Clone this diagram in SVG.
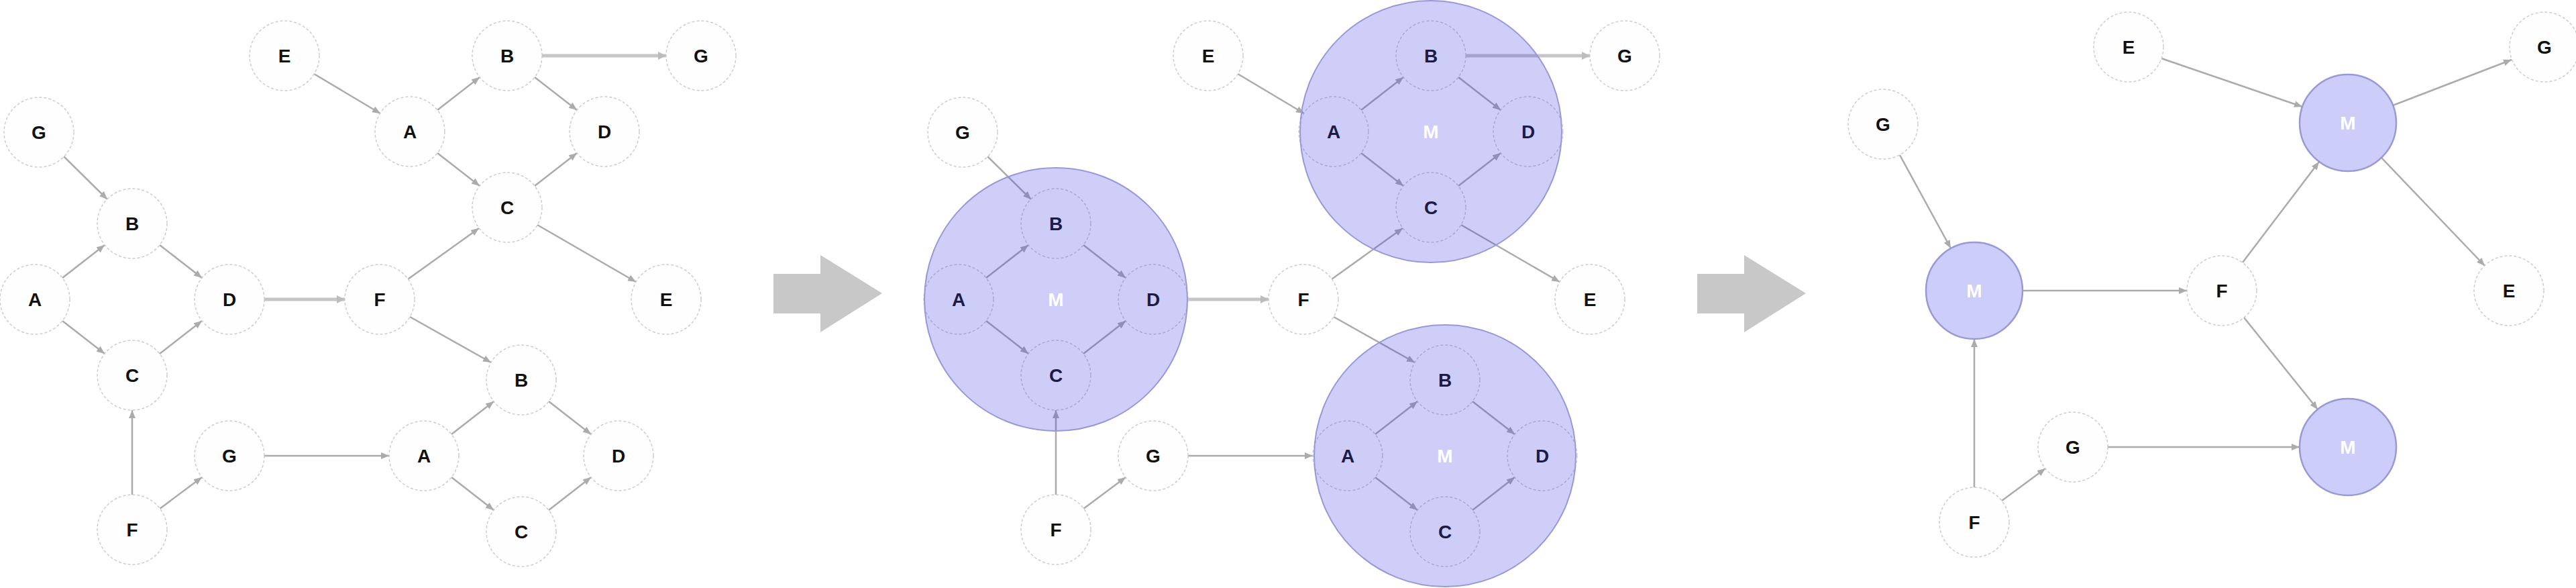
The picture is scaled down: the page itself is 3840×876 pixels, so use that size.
<svg xmlns="http://www.w3.org/2000/svg" width="3840" height="876" viewBox="0 0 3840 876">
<style>
.n{fill:#fefefe;stroke:#cdcdcd;stroke-width:1.5;stroke-dasharray:4 3}
.t{font-family:"Liberation Sans",Arial,sans-serif;font-weight:bold;font-size:28px;fill:#111;text-anchor:middle}
.e{stroke:#ababab;stroke-width:2.5;fill:none;marker-end:url(#ah)}
.et{stroke:#c6c6c6;stroke-width:5;fill:none;marker-end:url(#ah2)}
.ov{fill:#3a3ae6;fill-opacity:0.25;stroke:#9898d8;stroke-width:2}
.m{fill:#cdcdfa;stroke:#9999d6;stroke-width:2.5}
.mt{font-family:"Liberation Sans",Arial,sans-serif;font-weight:bold;font-size:28px;fill:#fff;text-anchor:middle}
.big{fill:#c8c8c8}
</style>
<defs>
<marker id="ah" markerUnits="userSpaceOnUse" markerWidth="12" markerHeight="10" refX="12" refY="5" orient="auto"><path d="M0,0 L12,5 L0,10 z" fill="#ababab"/></marker>
<marker id="ah2" markerUnits="userSpaceOnUse" markerWidth="12" markerHeight="12" refX="12" refY="6" orient="auto"><path d="M0,0 L12,6 L0,12 z" fill="#bcbcbc"/></marker>
</defs>
<rect width="3840" height="876" fill="#fff"/>

<g id="transition-arrows">
<polygon class="big" points="1153,408 1223,408 1223,380 1315,437 1223,495 1223,467 1153,467"/>
<polygon class="big" points="2530,408 2600,408 2600,380 2692,437 2600,495 2600,467 2530,467"/>
</g>

<g id="connectors">
<!-- panel 1 -->
<line class="e" x1="93" y1="414" x2="156" y2="365"/>
<line class="e" x1="93" y1="478" x2="156" y2="527"/>
<line class="e" x1="238" y1="365" x2="301" y2="414"/>
<line class="e" x1="238" y1="527" x2="301" y2="478"/>
<line class="e" x1="652" y1="164" x2="715" y2="115"/>
<line class="e" x1="652" y1="228" x2="715" y2="277"/>
<line class="e" x1="797" y1="115" x2="860" y2="164"/>
<line class="e" x1="797" y1="277" x2="860" y2="228"/>
<line class="e" x1="673" y1="647" x2="736" y2="598"/>
<line class="e" x1="673" y1="711" x2="736" y2="760"/>
<line class="e" x1="818" y1="598" x2="881" y2="647"/>
<line class="e" x1="818" y1="760" x2="881" y2="711"/>
<line class="e" x1="95" y1="233" x2="160" y2="297"/>
<line class="e" x1="197" y1="737" x2="197" y2="611"/>
<line class="e" x1="238" y1="758" x2="301" y2="711"/>
<line class="et" x1="394" y1="446" x2="514" y2="446"/>
<line class="e" x1="394" y1="679" x2="580" y2="679"/>
<line class="e" x1="608" y1="416" x2="714" y2="340"/>
<line class="e" x1="611" y1="472" x2="732" y2="540"/>
<line class="e" x1="468" y1="110" x2="567" y2="169"/>
<line class="et" x1="808" y1="83" x2="993" y2="83"/>
<line class="e" x1="801" y1="335" x2="948" y2="420"/>
<!-- panel 2 -->
<line class="e" x1="1470" y1="414" x2="1533" y2="365"/>
<line class="e" x1="1470" y1="478" x2="1533" y2="527"/>
<line class="e" x1="1615" y1="365" x2="1678" y2="414"/>
<line class="e" x1="1615" y1="527" x2="1678" y2="478"/>
<line class="e" x1="2029" y1="164" x2="2092" y2="115"/>
<line class="e" x1="2029" y1="228" x2="2092" y2="277"/>
<line class="e" x1="2174" y1="115" x2="2237" y2="164"/>
<line class="e" x1="2174" y1="277" x2="2237" y2="228"/>
<line class="e" x1="2050" y1="647" x2="2113" y2="598"/>
<line class="e" x1="2050" y1="711" x2="2113" y2="760"/>
<line class="e" x1="2195" y1="598" x2="2258" y2="647"/>
<line class="e" x1="2195" y1="760" x2="2258" y2="711"/>
<line class="e" x1="1472" y1="233" x2="1537" y2="297"/>
<line class="e" x1="1574" y1="737" x2="1574" y2="611"/>
<line class="e" x1="1615" y1="758" x2="1678" y2="711"/>
<line class="et" x1="1771" y1="446" x2="1891" y2="446"/>
<line class="e" x1="1771" y1="679" x2="1957" y2="679"/>
<line class="e" x1="1985" y1="416" x2="2091" y2="340"/>
<line class="e" x1="1988" y1="472" x2="2109" y2="540"/>
<line class="e" x1="1845" y1="110" x2="1944" y2="169"/>
<line class="et" x1="2185" y1="83" x2="2370" y2="83"/>
<line class="e" x1="2178" y1="335" x2="2325" y2="420"/>
<!-- panel 3 -->
<line class="e" x1="2832" y1="231" x2="2908" y2="370"/>
<line class="e" x1="3015" y1="433" x2="3260" y2="433"/>
<line class="e" x1="2943" y1="726" x2="2943" y2="505"/>
<line class="e" x1="2984" y1="746" x2="3049" y2="698"/>
<line class="e" x1="3142" y1="666" x2="3428" y2="666"/>
<line class="e" x1="3343" y1="391" x2="3457" y2="241"/>
<line class="e" x1="3345" y1="473" x2="3455" y2="610"/>
<line class="e" x1="3222" y1="87" x2="3432" y2="159"/>
<line class="e" x1="3567" y1="157" x2="3744" y2="89"/>
<line class="e" x1="3550" y1="235" x2="3704" y2="396"/>
</g>

<!-- panel 1 nodes -->
<g id="p1-g1"><circle class="n" cx="58" cy="197" r="52"/><text class="t" x="58" y="207">G</text></g>
<g id="p1-a1"><circle class="n" cx="52" cy="446" r="52"/><text class="t" x="52" y="456">A</text></g>
<g id="p1-b1"><circle class="n" cx="197" cy="333" r="52"/><text class="t" x="197" y="343">B</text></g>
<g id="p1-c1"><circle class="n" cx="197" cy="559" r="52"/><text class="t" x="197" y="569">C</text></g>
<g id="p1-d1"><circle class="n" cx="342" cy="446" r="52"/><text class="t" x="342" y="456">D</text></g>
<g id="p1-f1"><circle class="n" cx="197" cy="789" r="52"/><text class="t" x="197" y="799">F</text></g>
<g id="p1-g2"><circle class="n" cx="342" cy="679" r="52"/><text class="t" x="342" y="689">G</text></g>
<g id="p1-e1"><circle class="n" cx="424" cy="83" r="52"/><text class="t" x="424" y="93">E</text></g>
<g id="p1-a2"><circle class="n" cx="611" cy="196" r="52"/><text class="t" x="611" y="206">A</text></g>
<g id="p1-b2"><circle class="n" cx="756" cy="83" r="52"/><text class="t" x="756" y="93">B</text></g>
<g id="p1-c2"><circle class="n" cx="756" cy="309" r="52"/><text class="t" x="756" y="319">C</text></g>
<g id="p1-d2"><circle class="n" cx="901" cy="196" r="52"/><text class="t" x="901" y="206">D</text></g>
<g id="p1-g3"><circle class="n" cx="1045" cy="83" r="52"/><text class="t" x="1045" y="93">G</text></g>
<g id="p1-f2"><circle class="n" cx="566" cy="446" r="52"/><text class="t" x="566" y="456">F</text></g>
<g id="p1-e2"><circle class="n" cx="993" cy="446" r="52"/><text class="t" x="993" y="456">E</text></g>
<g id="p1-a3"><circle class="n" cx="632" cy="679" r="52"/><text class="t" x="632" y="689">A</text></g>
<g id="p1-b3"><circle class="n" cx="777" cy="566" r="52"/><text class="t" x="777" y="576">B</text></g>
<g id="p1-c3"><circle class="n" cx="777" cy="792" r="52"/><text class="t" x="777" y="802">C</text></g>
<g id="p1-d3"><circle class="n" cx="922" cy="679" r="52"/><text class="t" x="922" y="689">D</text></g>

<!-- panel 2 nodes -->
<g id="p2-g1"><circle class="n" cx="1435" cy="197" r="52"/><text class="t" x="1435" y="207">G</text></g>
<g id="p2-a1"><circle class="n" cx="1429" cy="446" r="52"/><text class="t" x="1429" y="456">A</text></g>
<g id="p2-b1"><circle class="n" cx="1574" cy="333" r="52"/><text class="t" x="1574" y="343">B</text></g>
<g id="p2-c1"><circle class="n" cx="1574" cy="559" r="52"/><text class="t" x="1574" y="569">C</text></g>
<g id="p2-d1"><circle class="n" cx="1719" cy="446" r="52"/><text class="t" x="1719" y="456">D</text></g>
<g id="p2-f1"><circle class="n" cx="1574" cy="789" r="52"/><text class="t" x="1574" y="799">F</text></g>
<g id="p2-g2"><circle class="n" cx="1719" cy="679" r="52"/><text class="t" x="1719" y="689">G</text></g>
<g id="p2-e1"><circle class="n" cx="1801" cy="83" r="52"/><text class="t" x="1801" y="93">E</text></g>
<g id="p2-a2"><circle class="n" cx="1988" cy="196" r="52"/><text class="t" x="1988" y="206">A</text></g>
<g id="p2-b2"><circle class="n" cx="2133" cy="83" r="52"/><text class="t" x="2133" y="93">B</text></g>
<g id="p2-c2"><circle class="n" cx="2133" cy="309" r="52"/><text class="t" x="2133" y="319">C</text></g>
<g id="p2-d2"><circle class="n" cx="2278" cy="196" r="52"/><text class="t" x="2278" y="206">D</text></g>
<g id="p2-g3"><circle class="n" cx="2422" cy="83" r="52"/><text class="t" x="2422" y="93">G</text></g>
<g id="p2-f2"><circle class="n" cx="1943" cy="446" r="52"/><text class="t" x="1943" y="456">F</text></g>
<g id="p2-e2"><circle class="n" cx="2370" cy="446" r="52"/><text class="t" x="2370" y="456">E</text></g>
<g id="p2-a3"><circle class="n" cx="2009" cy="679" r="52"/><text class="t" x="2009" y="689">A</text></g>
<g id="p2-b3"><circle class="n" cx="2154" cy="566" r="52"/><text class="t" x="2154" y="576">B</text></g>
<g id="p2-c3"><circle class="n" cx="2154" cy="792" r="52"/><text class="t" x="2154" y="802">C</text></g>
<g id="p2-d3"><circle class="n" cx="2299" cy="679" r="52"/><text class="t" x="2299" y="689">D</text></g>

<!-- panel 2 motif overlays -->
<g id="p2-m1"><circle class="ov" cx="1574" cy="446" r="196"/><text class="mt" x="1574" y="456">M</text></g>
<g id="p2-m2"><circle class="ov" cx="2133" cy="196" r="195"/><text class="mt" x="2133" y="206">M</text></g>
<g id="p2-m3"><circle class="ov" cx="2154" cy="679" r="195"/><text class="mt" x="2154" y="689">M</text></g>

<!-- panel 3 nodes -->
<g id="p3-g1"><circle class="n" cx="2807" cy="185" r="52"/><text class="t" x="2807" y="195">G</text></g>
<g id="p3-m1"><circle class="m" cx="2943" cy="433" r="72"/><text class="mt" x="2943" y="443">M</text></g>
<g id="p3-f1"><circle class="n" cx="3312" cy="433" r="52"/><text class="t" x="3312" y="443">F</text></g>
<g id="p3-m2"><circle class="m" cx="3500" cy="183" r="72"/><text class="mt" x="3500" y="193">M</text></g>
<g id="p3-e1"><circle class="n" cx="3173" cy="70" r="52"/><text class="t" x="3173" y="80">E</text></g>
<g id="p3-g2"><circle class="n" cx="3793" cy="70" r="52"/><text class="t" x="3793" y="80">G</text></g>
<g id="p3-e2"><circle class="n" cx="3740" cy="433" r="52"/><text class="t" x="3740" y="443">E</text></g>
<g id="p3-m3"><circle class="m" cx="3500" cy="666" r="72"/><text class="mt" x="3500" y="676">M</text></g>
<g id="p3-g3"><circle class="n" cx="3090" cy="666" r="52"/><text class="t" x="3090" y="676">G</text></g>
<g id="p3-f2"><circle class="n" cx="2943" cy="778" r="52"/><text class="t" x="2943" y="788">F</text></g>
</svg>
